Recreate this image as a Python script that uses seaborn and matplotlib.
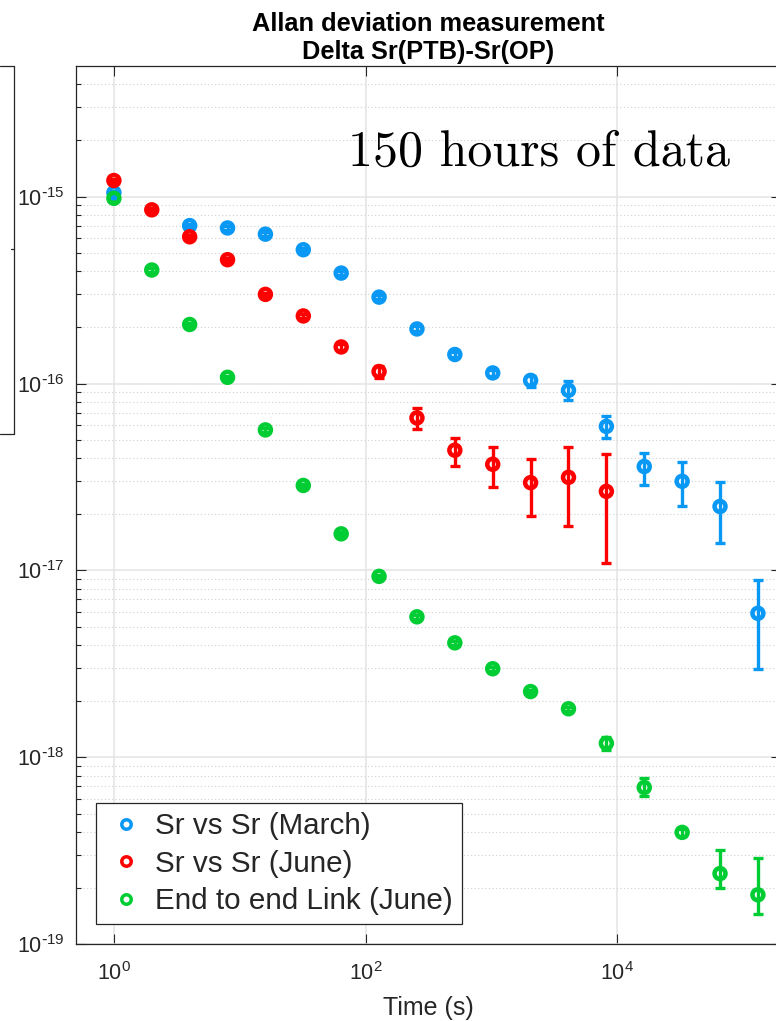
import numpy as np
import pandas as pd
import matplotlib
matplotlib.use("Agg")
import matplotlib.pyplot as plt
from matplotlib.lines import Line2D
from matplotlib.ticker import (FixedLocator, NullLocator,
                               NullFormatter, FuncFormatter)
import seaborn as sns

# --- data (averaging time in s, Allan deviation) ---
tau_march = [1, 4, 8, 16, 32, 64, 128, 256, 512, 1024, 2048, 4096,
             8192, 16384, 32768, 65536, 131072]
adev_march = [1.05e-15, 7.0e-16, 6.8e-16, 6.3e-16, 5.2e-16, 3.9e-16, 2.9e-16,
              1.96e-16, 1.43e-16, 1.14e-16, 1.04e-16, 9.2e-17, 5.9e-17,
              3.6e-17, 3.0e-17, 2.2e-17, 5.9e-18]
hi_march = [1.07e-15, 7.15e-16, 6.95e-16, 6.45e-16, 5.3e-16, 3.98e-16, 2.96e-16,
            2.02e-16, 1.48e-16, 1.18e-16, 1.10e-16, 1.03e-16, 6.7e-17,
            4.26e-17, 3.81e-17, 2.98e-17, 8.9e-18]
lo_march = [1.03e-15, 6.85e-16, 6.65e-16, 6.15e-16, 5.1e-16, 3.82e-16, 2.84e-16,
            1.90e-16, 1.38e-16, 1.10e-16, 0.96e-16, 8.2e-17, 5.12e-17,
            2.87e-17, 2.21e-17, 1.41e-17, 2.96e-18]

tau_june = [1, 2, 4, 8, 16, 32, 64, 128, 256, 512, 1024, 2048, 4096, 8192]
adev_june = [1.22e-15, 8.5e-16, 6.1e-16, 4.6e-16, 3.0e-16, 2.3e-16, 1.57e-16,
             1.16e-16, 6.55e-17, 4.4e-17, 3.7e-17, 2.95e-17, 3.15e-17, 2.65e-17]
hi_june = [1.245e-15, 8.67e-16, 6.22e-16, 4.7e-16, 3.07e-16, 2.36e-16, 1.62e-16,
           1.24e-16, 7.4e-17, 5.1e-17, 4.55e-17, 3.95e-17, 4.55e-17, 4.2e-17]
lo_june = [1.195e-15, 8.33e-16, 5.98e-16, 4.5e-16, 2.93e-16, 2.24e-16, 1.52e-16,
           1.07e-16, 5.7e-17, 3.6e-17, 2.8e-17, 1.95e-17, 1.73e-17, 1.1e-17]

tau_link = [1, 2, 4, 8, 16, 32, 64, 128, 256, 512, 1024, 2048, 4096, 8192,
            16384, 32768, 65536, 131072]
adev_link = [9.8e-16, 4.05e-16, 2.07e-16, 1.08e-16, 5.65e-17, 2.85e-17, 1.57e-17,
             9.3e-18, 5.65e-18, 4.1e-18, 2.98e-18, 2.25e-18, 1.82e-18, 1.19e-18,
             6.9e-19, 3.97e-19, 2.39e-19, 1.84e-19]
hi_link = [1.0e-15, 4.13e-16, 2.11e-16, 1.10e-16, 5.77e-17, 2.91e-17, 1.6e-17,
           9.5e-18, 5.77e-18, 4.19e-18, 3.05e-18, 2.3e-18, 1.86e-18, 1.29e-18,
           7.8e-19, 4.12e-19, 3.18e-19, 2.88e-19]
lo_link = [0.96e-15, 3.97e-16, 2.03e-16, 1.06e-16, 5.53e-17, 2.79e-17, 1.54e-17,
           9.1e-18, 5.53e-18, 4.01e-18, 2.91e-18, 2.2e-18, 1.78e-18, 1.10e-18,
           6.2e-19, 3.82e-19, 1.99e-19, 1.46e-19]

labels = ["Sr vs Sr (March)", "Sr vs Sr (June)", "End to end Link (June)"]
colors = ["#0a98f5", "#ff0000", "#00cc33"]
palette = dict(zip(labels, colors))

y_major = [1e-19, 1e-18, 1e-17, 1e-16, 1e-15]
x_major = [1e0, 1e2, 1e4]

frames = []
for lab, t, a, lo, hi in zip(labels,
                             [tau_march, tau_june, tau_link],
                             [adev_march, adev_june, adev_link],
                             [lo_march, lo_june, lo_link],
                             [hi_march, hi_june, hi_link]):
    frames.append(pd.DataFrame({"series": lab, "tau": t, "adev": a,
                                "lo": lo, "hi": hi}))
df = pd.concat(frames, ignore_index=True)

# --- styling ---
sns.set_theme(style="white")
plt.rcParams["font.family"] = ["Liberation Sans", "DejaVu Sans"]
plt.rcParams["mathtext.default"] = "regular"
axcol = "#262626"


def pow10(v, pos=None):
    # MATLAB-style 10^n label with a short hyphen as minus
    e = int(round(np.log10(v)))
    s = str(e).replace("-", r"\text{-}")
    return r"$\mathdefault{10^{%s}}$" % s


W, H = 776, 1021
fig = plt.figure(figsize=(W / 100, H / 100), dpi=100)
ax = fig.add_axes([76 / W, 1 - 944.3 / H, 705 / W, 878.3 / H])
ax.set_xscale("log")
ax.set_yscale("log")

for lab in labels:
    sub = df[df.series == lab]
    ax.errorbar(sub.tau, sub.adev, yerr=[sub.adev - sub.lo, sub.hi - sub.adev],
                fmt="none", ecolor=palette[lab], elinewidth=2.4, capsize=3.85,
                capthick=2.4, zorder=3)

sns.scatterplot(data=df, x="tau", y="adev", hue="series", hue_order=labels,
                palette=palette, s=62, linewidth=3.25, marker="o",
                legend=False, ax=ax, zorder=4)
pc = ax.collections[-1]
pc.set_edgecolors(pc.get_facecolors())
pc.set_facecolors("none")

ax.set_xlim(0.5, 2e5)
ax.set_ylim(1e-19, 5e-15)

# minor y ticks at 2..9 x each decade inside the visible range
y_minor = [m * d for d in [1e-19, 1e-18, 1e-17, 1e-16, 1e-15]
           for m in range(2, 10) if m * d <= 5e-15]

ax.xaxis.set_major_locator(FixedLocator(x_major))
ax.xaxis.set_major_formatter(FuncFormatter(pow10))
ax.xaxis.set_minor_locator(NullLocator())
ax.yaxis.set_major_locator(FixedLocator(y_major))
ax.yaxis.set_major_formatter(FuncFormatter(pow10))
ax.yaxis.set_minor_locator(FixedLocator(y_minor))
ax.yaxis.set_minor_formatter(NullFormatter())

ax.tick_params(which="both", direction="in", top=True, right=True,
               bottom=True, left=True, color=axcol, labelcolor=axcol,
               labelsize=15.5)
ax.tick_params(which="major", length=7, width=0.8)
ax.tick_params(which="minor", length=3.6, width=0.8)
ax.tick_params(axis="y", which="major", pad=8)
ax.tick_params(axis="x", which="major", pad=13)

ax.grid(which="major", color="#e4e4e4", linewidth=1.1, linestyle="-")
ax.grid(which="minor", axis="y", color="#d0d0d0", linewidth=0.8,
        linestyle=(0, (1, 2.2)))
ax.set_axisbelow(True)
for sp in ax.spines.values():
    sp.set_color(axcol)
    sp.set_linewidth(0.9)

ax.set_title("Allan deviation measurement\nDelta Sr(PTB)-Sr(OP)",
             fontsize=18.3, fontweight="bold", pad=5, color="black")
ax.set_xlabel("Time (s)", fontsize=18, color=axcol, labelpad=8)
ax.set_ylabel("")

ax.text(0.386, 0.887, "150 hours of data", transform=ax.transAxes,
        family="cmr10", fontsize=36, ha="left", va="baseline", color="black")

handles = [Line2D([], [], ls="none", marker="o", ms=6.8, mew=2.5,
                  mfc="none", mec=palette[lab]) for lab in labels]
leg = ax.legend(handles, labels, loc="lower left",
                bbox_to_anchor=(0.0284, 0.0228), borderaxespad=0,
                fontsize=21.3, frameon=True, fancybox=False, edgecolor=axcol,
                framealpha=1, borderpad=0.3, handlelength=1.4,
                handletextpad=0.3, labelspacing=0.33)
leg.get_frame().set_linewidth(0.9)

# edge of the neighbouring panel that is cut off on the left
def px(x, y):
    return x / W, 1 - y / H

for (x0, y0), (x1, y1) in [((0, 66), (14.3, 66)), ((14.3, 66), (14.3, 434)),
                           ((0, 434), (14.3, 434)), ((10.5, 249), (14.3, 249))]:
    a, b = px(x0, y0)
    c, d = px(x1, y1)
    fig.add_artist(Line2D([a, c], [b, d], color=axcol, lw=0.9))

fig.savefig("out.png", dpi=100)
